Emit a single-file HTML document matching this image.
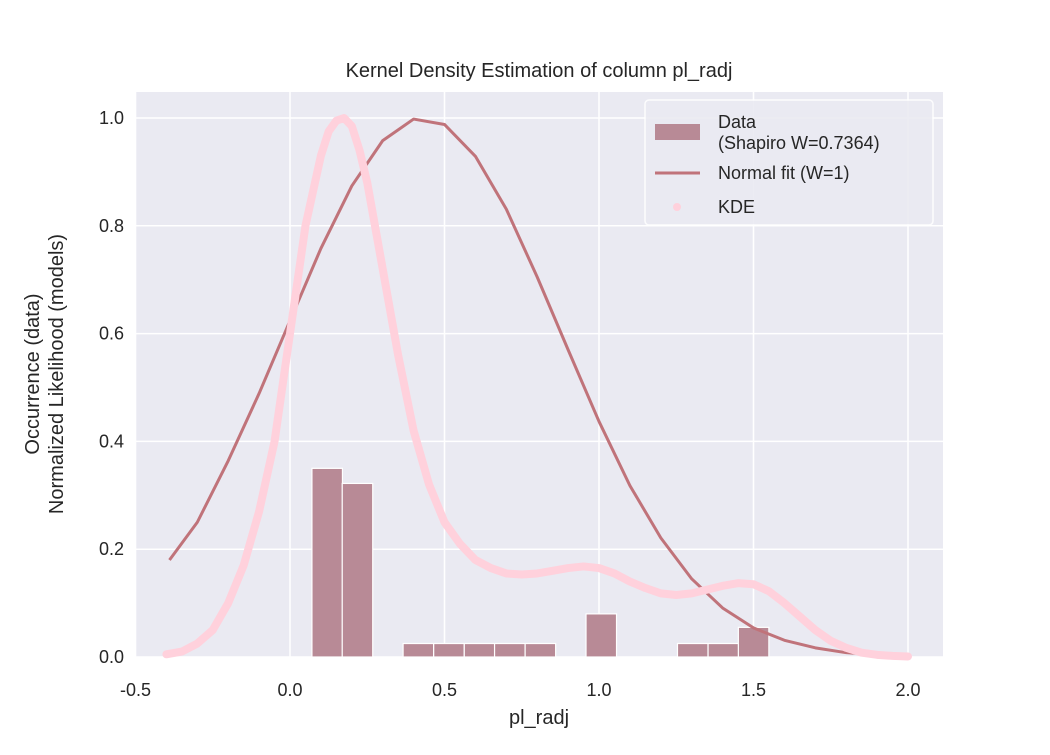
<!DOCTYPE html>
<html><head><meta charset="utf-8">
<style>
body{margin:0;background:#fff;font-family:"Liberation Sans","DejaVu Sans",sans-serif;}
svg text{font-family:"Liberation Sans","DejaVu Sans",sans-serif;fill:#262626;}
</style></head>
<body>
<svg id="chart" width="1050" height="750" xmlns="http://www.w3.org/2000/svg">
<rect x="0" y="0" width="1050" height="750" fill="#fff"/>
<rect x="136" y="92" width="807" height="565" fill="#eaeaf2"/>
<g id="grid"></g>
<g id="bars"></g>
<g id="normal"></g>
<g id="kde"></g>
<g id="ticks"></g>
<text x="539" y="77" font-size="20" text-anchor="middle">Kernel Density Estimation of column pl_radj</text>
<text x="539" y="724" font-size="20" text-anchor="middle">pl_radj</text>
<text transform="translate(39,374) rotate(-90)" font-size="20" text-anchor="middle"><tspan x="0" dy="0">Occurrence (data)</tspan><tspan x="0" dy="24">Normalized Likelihood (models)</tspan></text>
<g>
<rect x="645" y="100" width="288" height="125" rx="4" fill="#eaeaf2" stroke="#fff" stroke-width="1.5" opacity="0.9"/>
<rect x="655" y="124" width="45" height="16" fill="#b88a96"/>
<text x="718" y="128" font-size="18">Data</text>
<text x="718" y="149" font-size="18">(Shapiro W=0.7364)</text>
<line x1="655" y1="173" x2="700" y2="173" stroke="#c0737a" stroke-width="3"/>
<text x="718" y="179" font-size="18">Normal fit (W=1)</text>
<circle cx="677" cy="207" r="4" fill="#ffd1dc"/>
<text x="718" y="213" font-size="18">KDE</text>
</g>
</svg>
<script>
const xTicks=[-0.5,0,0.5,1,1.5,2];
const xTickLabels=["-0.5","0.0","0.5","1.0","1.5","2.0"];
const yTicks=[0,0.2,0.4,0.6,0.8,1.0];
const yTickLabels=["0.0","0.2","0.4","0.6","0.8","1.0"];
const binLefts=[0.071,0.169,0.366,0.465,0.564,0.662,0.761,0.958,1.254,1.353,1.451];
const binHeights=[0.35,0.322,0.025,0.025,0.025,0.025,0.025,0.08,0.025,0.025,0.055];
const binWidth=0.0987;
const normalX=[-0.39,-0.3,-0.2,-0.1,0,0.1,0.2,0.3,0.4,0.5,0.6,0.7,0.8,0.9,1.0,1.1,1.2,1.3,1.4,1.5,1.6,1.7,1.8,1.9,2.0];
const normalY=[0.18,0.25,0.364,0.489,0.624,0.758,0.874,0.958,0.998,0.988,0.929,0.831,0.705,0.57,0.437,0.318,0.221,0.145,0.091,0.054,0.031,0.017,0.008,0.004,0.002];
const kdeX=[-0.4,-0.35,-0.3,-0.25,-0.2,-0.15,-0.1,-0.05,0,0.05,0.1,0.125,0.15,0.175,0.2,0.225,0.25,0.3,0.35,0.4,0.45,0.5,0.55,0.6,0.65,0.7,0.75,0.8,0.85,0.9,0.95,1.0,1.05,1.1,1.15,1.2,1.25,1.3,1.35,1.4,1.45,1.5,1.55,1.6,1.65,1.7,1.75,1.8,1.85,1.9,1.95,2.0];
const kdeY=[0.005,0.01,0.025,0.05,0.1,0.17,0.27,0.4,0.6,0.8,0.93,0.975,0.995,1.0,0.985,0.94,0.88,0.72,0.56,0.42,0.32,0.25,0.21,0.18,0.165,0.155,0.153,0.155,0.16,0.165,0.168,0.165,0.155,0.14,0.128,0.118,0.115,0.118,0.125,0.132,0.137,0.135,0.122,0.1,0.075,0.05,0.03,0.017,0.008,0.004,0.002,0.001];

const NS="http://www.w3.org/2000/svg";
const sx=v=>290+v*309;
const sy=v=>657-v*539;
function mk(tag,attrs,parent){const e=document.createElementNS(NS,tag);for(const k in attrs)e.setAttribute(k,attrs[k]);document.getElementById(parent).appendChild(e);return e;}

xTicks.forEach((t,i)=>{
  const g=mk('line',{x1:sx(t),x2:sx(t),y1:92,y2:657,stroke:'#fff','stroke-width':1.5},'grid');
  
  
  const l=mk('text',{x:sx(t),y:696,'font-size':18,'text-anchor':'middle'},'ticks');
  l.textContent=xTickLabels[i];
  
  
});
yTicks.forEach((t,i)=>{
  const g=mk('line',{x1:136,x2:943,y1:sy(t),y2:sy(t),stroke:'#fff','stroke-width':1.5},'grid');
  
  
  const l=mk('text',{x:124,y:sy(t)+6,'font-size':18,'text-anchor':'end'},'ticks');
  l.textContent=yTickLabels[i];
  
  
});
binLefts.forEach((b,i)=>{
  const r=mk('rect',{x:sx(b),y:sy(binHeights[i]),width:binWidth*309,height:binHeights[i]*539,fill:'#b88a96',stroke:'#fff','stroke-width':1.2},'bars');
  
  
});
const np=mk('polyline',{points:normalX.map((x,i)=>sx(x)+','+sy(normalY[i])).join(' '),fill:'none',stroke:'#c0737a','stroke-width':3,'stroke-linejoin':'round'},'normal');


const kp=mk('polyline',{points:kdeX.map((x,i)=>sx(x)+','+sy(kdeY[i])).join(' '),fill:'none',stroke:'#ffd1dc','stroke-width':8,'stroke-linejoin':'round','stroke-linecap':'round'},'kde');


</script>
</body></html>
